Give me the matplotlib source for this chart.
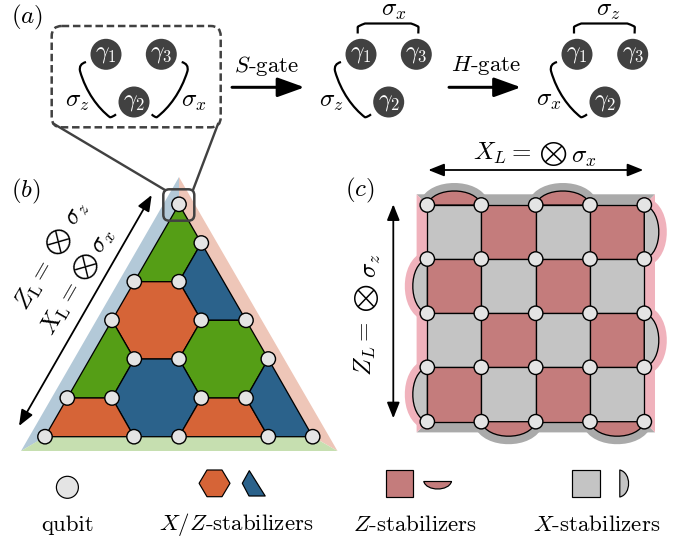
import matplotlib
matplotlib.use("Agg")
import matplotlib.pyplot as plt
from matplotlib.patches import Polygon, Circle, FancyBboxPatch, PathPatch, Rectangle
from matplotlib.path import Path

plt.rcParams['mathtext.fontset'] = 'cm'
plt.rcParams['font.family'] = ['cmr10', 'DejaVu Serif']
plt.rcParams['axes.unicode_minus'] = False

PX = 0.72  # points per pixel

# colours
ORANGE, GREEN, BLUE = '#D66437', '#559E16', '#2B628B'
RED, GREY, QUBIT = '#C47C7C', '#C4C4C4', '#E4E4E4'
BAND_B, BAND_P, BAND_G = '#B3C9D8', '#EEC6B8', '#C6DFB0'
PINK, BAND_GREY, DARK = '#F0B2BC', '#AAAAAA', '#414141'

# ---- panel (b) colour-code lattice
tri_qubits = [(179, 204.3), (201.3, 243), (134.3, 281.7), (179, 281.7), (112, 320.3),
              (201.3, 320.3), (246, 320.3), (134.3, 359), (179, 359), (268.3, 359),
              (67.3, 398), (112, 398), (201.3, 398), (246, 398), (45, 436.7),
              (134, 436.7), (179, 436.7), (268.3, 436.7), (312.7, 436.7)]
tri_faces = [
    (GREEN, [(179, 204.3), (201.3, 243), (179, 281.7), (134.3, 281.7)]),
    (BLUE, [(201.3, 243), (246, 320.3), (201.3, 320.3), (179, 281.7)]),
    (ORANGE, [(134.3, 281.7), (179, 281.7), (201.3, 320.3), (179, 359), (134.3, 359), (112, 320.3)]),
    (GREEN, [(201.3, 320.3), (246, 320.3), (268.3, 359), (246, 398), (201.3, 398), (179, 359)]),
    (GREEN, [(112, 320.3), (134.3, 359), (112, 398), (67.3, 398)]),
    (BLUE, [(134.3, 359), (179, 359), (201.3, 398), (179, 436.7), (134, 436.7), (112, 398)]),
    (ORANGE, [(67.3, 398), (112, 398), (134, 436.7), (45, 436.7)]),
    (ORANGE, [(201.3, 398), (246, 398), (268.3, 436.7), (179, 436.7)]),
    (BLUE, [(268.3, 359), (312.7, 436.7), (268.3, 436.7), (246, 398)]),
]

# ---- panel (c) surface code
grid_x = [427.3, 481.3, 535.7, 590, 644.3]
grid_y = [205, 259, 313.3, 367.3, 421.7]
top_arcs = [(0, 1), (2, 3)]
bottom_arcs = [(1, 2), (3, 4)]
left_arcs = [(1, 2), (3, 4)]
right_arcs = [(0, 1), (2, 3)]

fig = plt.figure(figsize=(6.89, 5.42), dpi=100)
ax = fig.add_axes([0, 0, 1, 1])
ax.set_xlim(0, 689)
ax.set_ylim(542, 0)
ax.axis('off')


def poly(pts, fc, ec='black', lw=1.3, z=2):
    ax.add_patch(Polygon(pts, closed=True, fc=fc, ec=ec, lw=lw * PX, zorder=z, joinstyle='round'))


def qubit(x, y, r=7.2, lw=1.4):
    ax.add_patch(Circle((x, y), r, fc=QUBIT, ec='black', lw=lw * PX, zorder=5))


def curve(pts, codes, lw=2.2, z=3, color='black'):
    ax.add_patch(PathPatch(Path(pts, codes), fc='none', ec=color, lw=lw * PX, zorder=z,
                           capstyle='butt', joinstyle='round'))


def arc(p0, p1, h, fc, ec='black', lw=1.3, z=3):
    """Closed dome on edge p0-p1, bulging by h = (dx, dy)."""
    (x0, y0), (x1, y1) = p0, p1
    dx, dy = h
    f = 4 / 3
    codes = [Path.MOVETO, Path.CURVE4, Path.CURVE4, Path.CURVE4, Path.CLOSEPOLY]
    ex, ey = (x1 - x0) * 0.1, (y1 - y0) * 0.1
    pts = [(x0, y0), (x0 + ex + dx * f, y0 + ey + dy * f), (x1 - ex + dx * f, y1 - ey + dy * f), (x1, y1), (x0, y0)]
    ax.add_patch(PathPatch(Path(pts, codes), fc=fc, ec=ec, lw=lw * PX, zorder=z, joinstyle='round'))


def label(x, y, s, size=15, color='black', rot=0, z=6):
    ax.text(x, y, s, fontsize=size, color=color, ha='center', va='center', rotation=rot,
            rotation_mode='anchor', zorder=z)


def arrow(p0, p1, style, lw, ms):
    ax.annotate('', xy=p1, xytext=p0,
                arrowprops=dict(arrowstyle=style, lw=lw * PX, color='black', shrinkA=0, shrinkB=0,
                                mutation_scale=ms), zorder=6)


# panel labels
label(27, 17, r'$(a)$', 18)
label(25.5, 191.5, r'$(b)$', 18)
label(360, 190.5, r'$(c)$', 18)

# ---- panel (a)
ax.add_patch(FancyBboxPatch((61.7, 36), 149, 81.3, boxstyle='round,pad=10,rounding_size=10', fc='none',
                            ec=DARK, lw=2.5 * PX, ls=(0, (3.0, 1.5)), zorder=3))
ax.plot([54, 165], [124, 190], color=DARK, lw=2.4 * PX, zorder=3)
ax.plot([218, 193], [124, 190], color=DARK, lw=2.4 * PX, zorder=3)

gamma_sets = [(106, 161.3, 134), (361, 416.3, 388.7), (577, 632.7, 605)]
for g1, g3, g2 in gamma_sets:
    for x, y, s in [(g1, 54.3, r'$\gamma_1$'), (g3, 54.3, r'$\gamma_3$'), (g2, 102, r'$\gamma_2$')]:
        ax.add_patch(Circle((x, y), 15.5, fc=DARK, ec='none', zorder=4))
        label(x, y, s, 17, 'white')

C4 = Path.CURVE4
L2 = Path.LINETO
M = Path.MOVETO
left_codes = [M, Path.CURVE3, Path.CURVE3, C4, C4, C4, Path.CURVE3, Path.CURVE3]


def left_bracket(dx):
    pts = [(86, 62), (78.5, 64), (80, 71), (86, 92), (98, 108), (110, 117.3), (113, 117), (116, 114.3)]
    curve([(x + dx, y) for x, y in pts], left_codes)


def top_bracket(dx):
    pts = [(357.7, 33.5), (357.7, 27), (358, 26), (365, 23.5), (411, 23.5), (418.3, 26), (418.5, 27), (418.3, 33.5)]
    codes = [M, L2, Path.CURVE3, Path.CURVE3, L2, Path.CURVE3, Path.CURVE3, L2]
    curve([(x + dx, y) for x, y in pts], codes)


left_bracket(0)
left_bracket(255)
left_bracket(471)
top_bracket(0)
top_bracket(216.3)
curve([(181.7, 62), (189, 64), (187.5, 71), (181, 92), (169, 108), (156.7, 117.3), (154, 117), (151.7, 114.3)], left_codes)

for x, y, s in [(77, 101.7, r'$\sigma_z$'), (194, 101.7, r'$\sigma_x$'), (331.7, 101.7, r'$\sigma_z$'),
                (393.3, 11, r'$\sigma_x$'), (608.3, 11, r'$\sigma_z$'), (548.3, 100.7, r'$\sigma_x$')]:
    label(x, y, s, 18)

arrow((232, 87.3), (304.5, 87.3), '-|>,head_length=1.0,head_width=0.36', 3, 16.5)
arrow((449, 87.3), (521, 87.3), '-|>,head_length=1.0,head_width=0.36', 3, 16.5)
label(266.7, 65.5, r'$S$-gate', 16.5)
label(486, 65.5, r'$H$-gate', 16.5)

# ---- panel (b)
apex, bl, br, mid = (179, 177), (21, 451), (337.5, 451), (179, 359)
poly([apex, bl, mid], BAND_B, ec='none', z=1)
poly([apex, br, mid], BAND_P, ec='none', z=1)
poly([bl, br, (312.7, 436.7), (45, 436.7)], BAND_G, ec='none', z=1)
for c, pts in tri_faces:
    poly(pts, c)
for x, y in tri_qubits:
    qubit(x, y)
ax.add_patch(FancyBboxPatch((169.3, 195.3), 19, 19.4, boxstyle='round,pad=6,rounding_size=6', fc='none',
                            ec=DARK, lw=2.5 * PX, zorder=6))
arrow((19, 426), (151.7, 195), '<|-|>,head_length=0.6,head_width=0.24', 1.8, 16)
label(35, 285, r'$Z_{\mathrm{L}}=$', 18, rot=60)
label(59.3, 241.7, r'$\bigotimes$', 13, rot=60)
label(77.3, 214, r'$\sigma_z$', 18, rot=60)
label(61.7, 308.3, r'$X_{\mathrm{L}}=$', 18, rot=60)
label(85.7, 266.7, r'$\bigotimes$', 13, rot=60)
label(103.3, 241.7, r'$\sigma_x$', 18, rot=60)

# ---- panel (c)
x0, x1, y0, y1 = grid_x[0], grid_x[-1], grid_y[0], grid_y[-1]
o = 10.7
poly([(x0 - o, y0 - o), (x1 + o, y0 - o), (x1, y0), (x0, y0)], BAND_GREY, ec='none', z=1)
poly([(x0 - o, y1 + o), (x1 + o, y1 + o), (x1, y1), (x0, y1)], BAND_GREY, ec='none', z=1)
poly([(x0 - o, y0 - o), (x0, y0), (x0, y1), (x0 - o, y1 + o)], PINK, ec='none', z=1)
poly([(x1 + o, y0 - o), (x1, y0), (x1, y1), (x1 + o, y1 + o)], PINK, ec='none', z=1)

for i, k in top_arcs:
    arc((grid_x[i], y0), (grid_x[k], y0), (0, -14), BAND_GREY, BAND_GREY, 16, 1.5)
    arc((grid_x[i], y0), (grid_x[k], y0), (0, -14), RED)
for i, k in bottom_arcs:
    arc((grid_x[i], y1), (grid_x[k], y1), (0, 14.5), BAND_GREY, BAND_GREY, 16, 1.5)
    arc((grid_x[i], y1), (grid_x[k], y1), (0, 14.5), RED)
for j, k in left_arcs:
    arc((x0, grid_y[j]), (x0, grid_y[k]), (-14.5, 0), PINK, PINK, 16, 1.5)
    arc((x0, grid_y[j]), (x0, grid_y[k]), (-14.5, 0), GREY)
for j, k in right_arcs:
    arc((x1, grid_y[j]), (x1, grid_y[k]), (14.5, 0), PINK, PINK, 16, 1.5)
    arc((x1, grid_y[j]), (x1, grid_y[k]), (14.5, 0), GREY)

for r in range(4):
    for c in range(4):
        col = RED if (r + c) % 2 else GREY
        ax.add_patch(Rectangle((grid_x[c], grid_y[r]), grid_x[c + 1] - grid_x[c], grid_y[r + 1] - grid_y[r],
                               fc=col, ec='black', lw=1.3 * PX, zorder=2))
for x in grid_x:
    for y in grid_y:
        qubit(x, y)

arrow((428.3, 170), (643.3, 170), '<|-|>,head_length=0.6,head_width=0.24', 1.8, 16)
arrow((393.3, 204.3), (393.3, 418.3), '<|-|>,head_length=0.6,head_width=0.24', 1.8, 16)
label(502.5, 153.5, r'$X_L=$', 18)
label(553.3, 154, r'$\bigotimes$', 13)
label(583.5, 158, r'$\sigma_x$', 18)
label(365.7, 349, r'$Z_L=$', 18, rot=90)
label(366.7, 298.3, r'$\bigotimes$', 13, rot=90)
label(371.7, 265.7, r'$\sigma_z$', 18, rot=90)

# ---- legend
qubit(67.4, 487.3, r=11, lw=1.2)
poly([(199.1, 483.3), (207, 470), (222, 470), (230, 483.3), (222, 496.7), (207, 496.7)], ORANGE, lw=1.2)
poly([(249.3, 470.7), (242.3, 483.3), (249, 496), (265.2, 496)], BLUE, lw=1.2)
ax.add_patch(Rectangle((385.5, 470), 27.7, 26.7, fc=RED, ec='black', lw=1.2 * PX, zorder=2))
ax.add_patch(Rectangle((571.8, 470), 28.2, 26.7, fc=GREY, ec='black', lw=1.2 * PX, zorder=2))
arc((423.8, 481.5), (451.5, 481.5), (0, 7.5), RED, lw=1.2)
arc((619.8, 470), (619.8, 497), (8.8, 0), GREY, lw=1.2)
label(68, 525, 'qubit', 16.5)
label(236, 525, r'$X/Z$-stabilizers', 16.5)
label(415, 525, r'$Z$-stabilizers', 16.5)
label(597, 525, r'$X$-stabilizers', 16.5)

fig.savefig('out.png', dpi=100)
